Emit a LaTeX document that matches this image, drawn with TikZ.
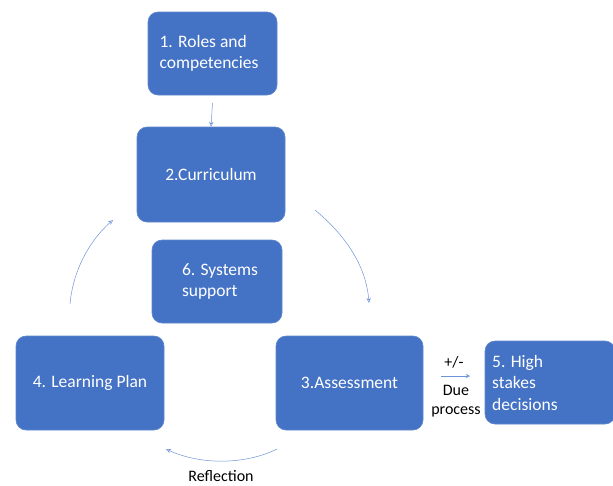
\documentclass[tikz,border=0pt]{standalone}
\usepackage{fontspec}
\setmainfont{Carlito}
\usetikzlibrary{arrows.meta}
\definecolor{boxblue}{HTML}{4472C4}
\definecolor{linkblue}{HTML}{6F95D6}
\tikzset{
  card/.style={fill=boxblue, draw=boxblue!85!white, line width=0.6pt, rounded corners=10pt},
  cardtext/.style={text=white, font=\fontsize{17.5}{21.5}\selectfont, align=left, inner sep=0pt},
  link/.style={draw=linkblue, line width=0.5pt, -{Stealth[length=5pt,width=4.5pt,open]}},
  lbl/.style={text=black, font=\fontsize{16}{19}\selectfont, inner sep=0pt, align=center}
}
\begin{document}
\begin{tikzpicture}[x=1pt,y=-1pt]
\useasboundingbox[fill=white] (0,0) rectangle (613,485);
\node[card, minimum width=129pt, minimum height=83pt] (b1) at (212.5,53.5) {};
\node[cardtext] (t1) at (209,53.5) {1. Roles and\\competencies};
\node[card, minimum width=148pt, minimum height=95pt] (b2) at (211,174.5) {};
\node[cardtext] (t2) at (b2) {2.Curriculum};
\node[card, minimum width=130pt, minimum height=83pt] (b6) at (217,281.5) {};
\node[cardtext] (t6) at (220,281.5) {6. Systems\\support};
\node[card, minimum width=148pt, minimum height=94pt] (b4) at (90,383) {};
\node[cardtext] (t4) at (b4) {4. Learning Plan};
\node[card, minimum width=147pt, minimum height=94pt] (b3) at (349.5,383) {};
\node[cardtext] (t3) at (b3) {3.Assessment};
\node[card, minimum width=130pt, minimum height=83pt] (b5) at (550,382.5) {};
\node[cardtext, anchor=west] (t5) at (492,382.5) {5. High\\stakes\\decisions};
\draw[link] (b1.south |- 0,103) coordinate (a1) -- (b2.north);
\coordinate (r1) at (315,210);
\coordinate (r2) at (369,303);
\draw[link] (r1) .. controls (345,235) and (366,265) .. (r2);
\coordinate (d1) at (277,449);
\coordinate (d2) at (166,449);
\draw[link] (d1) .. controls (245,465) and (200,465) .. (d2);
\coordinate (l1) at (70,304);
\coordinate (l2) at (113,220);
\draw[link] (l1) .. controls (73,270) and (90,240) .. (l2);
\node[lbl] (pm) at (454,362) {+/-};
\coordinate (p1) at (441,376);
\coordinate (p2) at (470,376);
\draw[link, -{Stealth[length=4pt,width=4pt]}] (p1) -- (p2);
\node[lbl] (dp) at (456,401) {Due\\process};
\node[lbl] (refl) at (221,476) {Reflection};
\end{tikzpicture}
\end{document}
